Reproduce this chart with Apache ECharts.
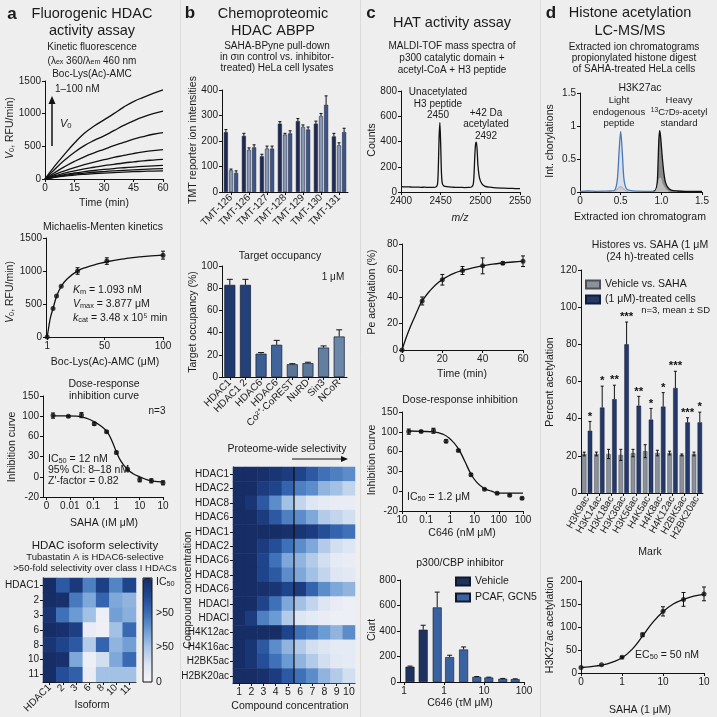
<!DOCTYPE html>
<html><head><meta charset="utf-8">
<script src="https://cdn.jsdelivr.net/npm/echarts@6/dist/echarts.min.js"></script>
<style>html,body{margin:0;padding:0;background:#eeeeee}#c{width:717px;height:717px}</style>
</head><body><div id="c"></div>
<script>
// ================= DATA =================
// a1 kinetic traces (RFU vs time)
const kinTime = [0,5,10,15,20,25,30,35,40,45,50,55,60];
const kin1 = [0,200,380,550,700,810,905,1000,1100,1185,1250,1310,1365];
const kin2 = [0,150,290,410,510,590,660,740,820,890,950,1000,1040];
const kin3 = [0,100,190,270,340,400,455,510,560,610,650,685,710];
const kin4 = [0,70,125,175,220,260,295,330,360,390,415,435,450];
const kin5 = [0,50,90,125,155,180,205,225,245,262,278,290,300];
const kin6 = [0,38,68,92,112,130,146,160,172,183,193,202,210];
const kin7 = [0,30,55,75,90,103,114,124,133,141,148,154,160];
const kin8 = [0,25,45,60,72,82,91,99,106,112,117,121,125];
// a2 Michaelis-Menten
const mmSubstrate = [1,6,9,13,27,52,100];
const mmRate = [0,430,620,770,1000,1150,1240];
const mmErr = [0,0,0,0,50,50,60];
const mmFitX = [1,2,3,4,6,9,13,18,27,35,45,52,65,80,100];
const mmFitY = [0,110,220,310,430,615,765,880,1000,1060,1110,1140,1180,1215,1240];
const mmXTicks = [1,50,100];
// a3 dose response (x = tick position, y = % on uneven tick scale)
const drYTicks = [-20,0,30,60,100,150];
const drXLabels = ['0','0.01','0.1','1','10','10'];
const drPos = [0.28,0.94,1.5,2.05,2.58,3.0,3.48,4.0,4.5,5.0];
const drInhib = [102,100,103,85,69,36,11,-3,-4,-6];
const drErr = [6,2,6,3,2,2,2,2,2,2];
const drFitPos = [0.28,0.8,1.3,1.7,2.05,2.35,2.6,2.8,3.0,3.2,3.45,3.7,4.0,4.5,5.0];
const drFitVal = [101,101,100,96,89,80,69,54,37,23,12,5,0,-4,-5];
// a4 isoform heatmap
const isoforms = ['HDAC1','2','3','6','8','10','11'];
const isoRow1 = [100,75,92,60,88,58,85];
const isoRow2 = [100,98,62,45,70,45,40];
const isoRow3 = [95,65,50,35,5,48,42];
const isoRow6 = [100,97,88,8,4,35,68];
const isoRow8 = [95,85,75,30,70,40,48];
const isoRow10 = [100,97,45,5,20,45,68];
const isoRow11 = [100,80,72,8,35,35,35];
// b1 TMT intensities
const tmtLabels = ['TMT-126','TMT-126','TMT-127','TMT-128','TMT-129','TMT-130','TMT-131'];
const tmtA = [235,220,140,268,278,268,218];
const tmtAErr = [10,10,8,8,10,10,12];
const tmtB = [85,165,170,225,255,298,183];
const tmtBErr = [5,8,10,5,8,10,10];
const tmtC = [75,175,170,230,245,342,235];
const tmtCErr = [8,10,10,10,10,35,15];
// b2 target occupancy
const occLabels = ['HDAC1','HDAC1 2','HDAC6','HDAC6','Co²⁺·CoREST','NuRD','Sin3','NCoR'];
const occVal = [83,83,21,29,11.5,12.5,26.5,36.5];
const occErr = [5,5,1,4,0.5,0.8,1.5,6];
// b3 proteome-wide heatmap
const concLabels = ['1','2','3','4','5','6','7','8','9','10'];
const protRows = ['HDAC1','HDAC2','HDAC8','HDAC6','HDAC1','HDAC2','HDAC6','HDAC8','HDAC6','HDACl','HDACl','H4K12ac','H4K16ac','H2BK5ac','H2BK20ac'];
const prot1 = [100,100,98,95,90,85,75,65,60,55];
const prot2 = [100,100,90,85,70,60,55,40,35,25];
const prot3 = [100,95,75,55,35,25,15,10,8,8];
const prot4 = [100,100,90,75,60,55,45,30,25,20];
const prot5 = [100,100,100,100,98,95,90,80,70,65];
const prot6 = [100,100,90,80,65,55,45,30,20,15];
const prot7 = [100,100,85,65,45,40,30,20,10,8];
const prot8 = [100,100,85,75,55,45,35,25,15,12];
const prot9 = [100,100,98,95,85,90,70,55,45,40];
const prot10 = [100,100,85,65,45,35,25,15,8,5];
const prot11 = [100,90,60,50,30,15,10,8,5,5];
const prot12 = [100,100,100,100,85,65,60,50,40,55];
const prot13 = [100,95,75,55,40,30,20,15,10,10];
const prot14 = [100,95,80,65,50,40,30,20,12,10];
const prot15 = [100,100,98,90,75,65,55,40,30,20];
// c1 MALDI spectrum
const mz = [2400,2405,2410,2415,2420,2425,2430,2435,2440,2444,2446,2447,2448,2449,2450,2451,2452,2454,2458,2465,2470,2475,2480,2485,2489,2491,2492,2493,2494,2495,2496,2497,2499,2502,2506,2512,2520,2530,2540,2550];
const counts = [42,40,41,38,39,37,38,36,37,40,60,180,430,550,380,150,70,48,42,38,36,37,35,36,40,60,130,280,380,395,330,210,110,65,45,38,32,30,28,26];
// c2 time course
const hatTime = [0,10,20,30,40,50,60];
const hatAcet = [0,37,53,60,63.5,65.5,67];
const hatErr = [0,3,4,3,6,1,4];
const hatFitT = [0,2,4,6,8,10,14,18,22,26,30,35,40,45,50,55,60];
const hatFitY = [0,9,17,24,31,37,45,51,55,58,60,62,63.5,64.8,65.7,66.4,67];
// c3 C646 dose response
const c646XLabels = ['10','0.1','1','10','100','100'];
const c646Pos = [0.28,0.79,1.3,1.82,2.33,2.85,3.41,3.93,4.45,4.96];
const c646Inhib = [101,101,103,81,62,25,3,-2,-4,-7];
const c646Err = [6,2,6,3,2,2,1,1,1,1];
const c646FitPos = [0.28,0.8,1.3,1.7,2.0,2.3,2.6,2.85,3.1,3.4,3.7,4.0,4.5,5.0];
const c646FitVal = [102,101,100,95,85,68,45,26,13,4,0,-2,-2,-2];
// c4 p300/CBP bars
const c4Labels = ['1','1','10','100'];
const vehPos = [0.15,0.48];
const vehVal = [120,410];
const vehErr = [5,35];
const pcafPos = [0.83,1.14,1.49,1.82,2.12,2.47,2.78];
const pcafVal = [585,195,255,40,35,25,22];
const pcafErr = [120,15,20,3,3,3,3];
// d1 chromatograms
const lightX = [0,0.1,0.2,0.3,0.38,0.43,0.46,0.48,0.5,0.52,0.54,0.57,0.62,0.7,0.8,0.95];
const lightY = [0.01,0.015,0.01,0.012,0.015,0.03,0.2,0.6,0.92,0.6,0.2,0.05,0.02,0.012,0.01,0.01];
const lightMinorX = [0.4,0.45,0.48,0.5,0.52,0.55,0.6];
const lightMinorY = [0,0.03,0.07,0.08,0.07,0.03,0];
const heavyX = [0.9,0.93,0.95,0.96,0.97,0.98,0.99,1.01,1.03,1.05,1.08,1.12,1.2,1.3,1.5];
const heavyY = [0.01,0.03,0.15,0.45,0.8,0.93,0.85,0.55,0.3,0.15,0.07,0.03,0.015,0.01,0.01];
const heavyMinorX = [0.92,0.95,0.97,0.99,1.02,1.06,1.1];
const heavyMinorY = [0,0.08,0.2,0.22,0.12,0.04,0];
// d2 histone marks
const marks = ['H3K9ac','H3K14ac','H3K18ac','H3K36ac','H3K56ac','H4K5ac','H4K8ac','H4K12ac','H2BK5ac','H2BK20ac'];
const markVeh = [21,21,21,20.5,21.5,22.5,21.5,21.5,20.5,21];
const markVehErr = [1,1,2.5,3,2,3.5,1.5,1,0.5,1];
const markSaha = [33.5,46,50.5,80,47,39.5,46.5,56.5,38,38];
const markSahaErr = [5,11.5,7.5,12,5,6,7.5,9,2.5,5.5];
const markStars = ['*','*','**','***','**','*','*','***','***','*'];
// d3 EC50
const d3Labels = ['0','1','10','10'];
const ecPos = [0,0.5,1,1.5,2,2.5,3];
const ecVal = [12,18,34,83,134,160,172];
const ecErr = [0,0,2,4,10,15,15];
const ecFitPos = [0,0.25,0.5,0.75,1,1.25,1.5,1.75,2,2.25,2.5,2.75,3];
const ecFitVal = [12,14,17,23,33,52,80,110,133,150,160,167,171];

// ================= BUILD =================
const FONT = '"Liberation Sans", Arial, Helvetica, sans-serif';
const INK = '#1a1a1a';
const HEAT = ['#f5f3f8','#dbe5f2','#a9c5e6','#6b9bd3','#3a6cb5','#1f4690','#172d66'];
const grids = [], xAxes = [], yAxes = [], series = [], G = [], visualMaps = [], legends = [];

function merge(base, o) {
  const r = Object.assign({}, base);
  for (const k in (o || {})) {
    const v = o[k];
    if (v && typeof v === 'object' && !Array.isArray(v) && base[k] && typeof base[k] === 'object') r[k] = Object.assign({}, base[k], v);
    else r[k] = v;
  }
  return r;
}
function axisBase() {
  return {type:'value', axisLine:{show:true, onZero:false, lineStyle:{color:'#111', width:1}},
    axisTick:{show:true, length:3, inside:false, lineStyle:{color:'#111'}},
    axisLabel:{fontSize:10, color:INK, fontFamily:FONT, margin:4, formatter:v => String(v)},
    splitLine:{show:false}, splitArea:{show:false}};
}
function addGrid(l, t, w, h, xa, ya) {
  const i = grids.length;
  grids.push({left:l, top:t, width:w, height:h, containLabel:false, outerBoundsMode:'none'});
  xAxes.push(merge(axisBase(), Object.assign({gridIndex:i}, xa)));
  yAxes.push(merge(axisBase(), Object.assign({gridIndex:i}, ya)));
  return i;
}
function T(x, y, text, o) {
  o = o || {};
  G.push({type:'text', x, y, rotation:o.rot || 0, z:100, silent:true,
    style:{text, fontSize:o.fs || 10, fontFamily:FONT, fill:o.color || INK, align:o.align || 'center',
      verticalAlign:'middle', fontWeight:o.fw || 'normal', fontStyle:o.fi || 'normal', rich:o.rich}});
}
function rich(fs) {
  return {s:{fontSize:fs*0.7, verticalAlign:'bottom', fontFamily:FONT, fill:INK},
          p:{fontSize:fs*0.7, verticalAlign:'top', fontFamily:FONT, fill:INK},
          i:{fontSize:fs, fontStyle:'italic', fontFamily:FONT, fill:INK}};
}
function pairs(xs, ys) { return xs.map((x, i) => [x, ys[i]]); }
function addErr(gi, pts, opt) {
  opt = opt || {};
  const cap = opt.cap || 2;
  series.push({type:'custom', xAxisIndex:gi, yAxisIndex:gi, silent:true, z:6, data:pts,
    renderItem(params, api) {
      const x = api.value(0), lo = api.value(1), hi = api.value(2), off = api.value(3) || 0;
      const a = api.coord([x, lo]), b = api.coord([x, hi]);
      const cx = a[0] + off;
      const st = {stroke:'#111', lineWidth:1};
      const ch = [];
      if (hi !== lo) {
        ch.push({type:'line', shape:{x1:cx, y1:a[1], x2:cx, y2:b[1]}, style:st});
        ch.push({type:'line', shape:{x1:cx-cap, y1:b[1], x2:cx+cap, y2:b[1]}, style:st});
        if (!opt.noLow) ch.push({type:'line', shape:{x1:cx-cap, y1:a[1], x2:cx+cap, y2:a[1]}, style:st});
      }
      if (opt.stars) ch.push({type:'text', style:{text:opt.stars[params.dataIndex], x:cx, y:b[1]+1, align:'center',
        verticalAlign:'bottom', fontSize:11.5, fontWeight:'bold', fill:'#111', fontFamily:FONT}});
      return {type:'group', children:ch};
    }});
}
function fitLine(gi, data) {
  series.push({type:'line', xAxisIndex:gi, yAxisIndex:gi, data, smooth:true, showSymbol:false, silent:true,
    lineStyle:{color:'#111', width:1.3}, z:3});
}
function dots(gi, data) {
  series.push({type:'scatter', xAxisIndex:gi, yAxisIndex:gi, data, symbol:'circle', symbolSize:5,
    itemStyle:{color:'#111'}, silent:true, z:7});
}
function unevenPos(v, ticks) {
  for (let i = 0; i < ticks.length - 1; i++) {
    if (v <= ticks[i+1] || i === ticks.length - 2) return i + (v - ticks[i]) / (ticks[i+1] - ticks[i]);
  }
}

// ---- panel separators ----
[180.5, 360.5, 540.5].forEach(x => G.push({type:'line', shape:{x1:x, y1:0, x2:x, y2:717}, style:{stroke:'#dadada', lineWidth:1}, silent:true}));

// ---- Panel a ----
T(12, 14, 'a', {fs:17, fw:'bold'});
T(92, 14, 'Fluorogenic HDAC', {fs:14.5});
T(92, 31, 'activity assay', {fs:14.5});
T(92, 47, 'Kinetic fluorescence', {fs:10});
T(92, 61, '(λ{s|ex} 360/λ{s|em} 460 nm', {fs:10, rich:rich(10)});
T(92, 74, 'Boc-Lys(Ac)-AMC', {fs:10});

const ga1 = addGrid(45, 81, 118, 98, {min:0, max:60, interval:15}, {min:0, max:1500, interval:500});
[kin1,kin2,kin3,kin4,kin5,kin6,kin7,kin8].forEach(c => {
  series.push({type:'line', xAxisIndex:ga1, yAxisIndex:ga1, data:pairs(kinTime, c), smooth:true, showSymbol:false,
    silent:true, lineStyle:{color:'#111', width:1.3}});
});
T(10, 128, '{i|V}{s|0}, RFU/min)', {fs:10.5, rot:Math.PI/2, rich:rich(10.5)});
T(104, 203, 'Time (min)', {fs:10.5});
T(55, 89, '1–100 nM', {fs:10, align:'left'});
G.push({type:'line', shape:{x1:52, y1:146, x2:52, y2:102}, style:{stroke:'#111', lineWidth:1.5}, silent:true});
G.push({type:'polygon', shape:{points:[[52,96],[48.5,104],[55.5,104]]}, style:{fill:'#111'}, silent:true});
T(60, 124, '{i|V}{s|0}', {fs:11, align:'left', rich:rich(11)});

const ga2 = addGrid(46, 238, 117, 99,
  {min:0, max:100, axisLabel:{customValues:mmXTicks}, axisTick:{customValues:mmXTicks}},
  {min:0, max:1500, interval:500});
fitLine(ga2, pairs(mmFitX, mmFitY));
dots(ga2, pairs(mmSubstrate, mmRate));
addErr(ga2, mmSubstrate.map((x, i) => [x, mmRate[i]-mmErr[i], mmRate[i]+mmErr[i], 0]));
T(103, 227, 'Michaelis-Menten kinetics', {fs:10.5});
T(10, 292, '{i|V}{s|0}, RFU/min)', {fs:10.5, rot:Math.PI/2, rich:rich(10.5)});
T(105, 362, 'Boc-Lys(Ac)-AMC (μM)', {fs:10.5});
T(73, 290, '{i|K}{s|m} = 1.093 nM', {fs:10.5, align:'left', rich:rich(10.5)});
T(73, 304, '{i|V}{s|max} = 3.877 μM', {fs:10.5, align:'left', rich:rich(10.5)});
T(73, 318, '{i|k}{s|cat} = 3.48 x 10⁵ min', {fs:10.5, align:'left', rich:rich(10.5)});

const dr6 = [0,1,2,3,4,5];
const ga3 = addGrid(43, 396, 120, 101,
  {min:-0.15, max:5, axisLabel:{customValues:dr6, formatter:v => drXLabels[Math.round(v)]}, axisTick:{customValues:dr6}},
  {min:0, max:5, interval:1, axisLabel:{formatter:v => String(drYTicks[Math.round(v)])}});
fitLine(ga3, drFitPos.map((p, i) => [p, unevenPos(drFitVal[i], drYTicks)]));
dots(ga3, drPos.map((p, i) => [p, unevenPos(drInhib[i], drYTicks)]));
addErr(ga3, drPos.map((p, i) => [p, unevenPos(drInhib[i]-drErr[i], drYTicks), unevenPos(drInhib[i]+drErr[i], drYTicks), 0]));
T(104, 384, 'Dose-response', {fs:10.5});
T(104, 396, 'inhibition curve', {fs:10.5});
T(157, 411, 'n=3', {fs:10});
T(12, 447, 'Inhibition curve', {fs:10.5, rot:Math.PI/2});
T(104, 523, 'SAHA (ıM μM)', {fs:10.5});
T(48, 459, 'IC{s|50} = 12 nM', {fs:10.5, align:'left', rich:rich(10.5)});
T(48, 470, '95% CI: 8–18 nM', {fs:10.5, align:'left'});
T(48, 481, "Z'-factor = 0.82", {fs:10.5, align:'left'});

const ga4 = addGrid(43, 578, 93, 104,
  {type:'category', data:isoforms, axisLabel:{rotate:45, interval:0}, axisTick:{alignWithLabel:true}},
  {type:'category', data:isoforms, inverse:true, axisLabel:{interval:0}, axisTick:{alignWithLabel:true}});
const isoMatrix = [isoRow1, isoRow2, isoRow3, isoRow6, isoRow8, isoRow10, isoRow11];
const sA = series.length;
series.push({type:'heatmap', xAxisIndex:ga4, yAxisIndex:ga4, silent:true,
  data:isoMatrix.flatMap((r, yi) => r.map((v, xi) => [xi, yi, v]))});
visualMaps.push({type:'continuous', min:0, max:100, seriesIndex:sA, left:143, top:578, itemWidth:9, itemHeight:104,
  calculable:false, padding:0, inRange:{color:HEAT}, textStyle:{fontSize:1, color:'rgba(0,0,0,0)'}});
G.push({type:'rect', shape:{x:143, y:578, width:9, height:104}, style:{fill:'none', stroke:'#111', lineWidth:1}, z:101, silent:true});
T(95, 546, 'HDAC isoform selectivity', {fs:11.5});
T(95, 557, 'Tubastatin A is HDAC6-selective', {fs:9.5});
T(95, 568, '>50-fold selectivity over class I HDACs', {fs:9.5});
T(156, 582, 'IC{s|50}', {fs:10.5, align:'left', rich:rich(10.5)});
T(156, 613, '>50', {fs:10.5, align:'left'});
T(156, 647, '>50', {fs:10.5, align:'left'});
T(156, 682, '0', {fs:10.5, align:'left'});
T(92, 705, 'Isoform', {fs:10.5});

// ---- Panel b ----
T(190, 13, 'b', {fs:17, fw:'bold'});
T(273, 14, 'Chemoproteomic', {fs:14.5});
T(273, 31, 'HDAC ABPP', {fs:14.5});
T(277, 46, 'SAHA-BPyne pull-down', {fs:10});
T(277, 57, 'in σιn control vs. inhibitor-', {fs:10});
T(277, 68, 'treated) HeLa cell lysates', {fs:10});

const gb1 = addGrid(222, 90, 126, 102,
  {type:'category', data:tmtLabels, axisLabel:{rotate:45, interval:0, fontSize:10}, axisTick:{alignWithLabel:true}},
  {min:0, max:400, interval:100});
const tmtColors = ['#1f2a52', '#8797b6', '#3d5487'];
const bw1 = 4, gap1 = 1.1;
[[tmtA, tmtAErr], [tmtB, tmtBErr], [tmtC, tmtCErr]].forEach((s, k) => {
  series.push({type:'bar', xAxisIndex:gb1, yAxisIndex:gb1, data:s[0], barWidth:bw1, barGap:'28%', silent:true,
    itemStyle:{color:tmtColors[k], borderColor:'#141b35', borderWidth:0.5}});
});
[[tmtA, tmtAErr], [tmtB, tmtBErr], [tmtC, tmtCErr]].forEach((s, k) => {
  const off = (k - 1) * (bw1 + gap1);
  addErr(gb1, s[0].map((v, i) => [i, v, v + s[1][i], off]), {noLow:true, cap:1.5});
});
T(193, 140, 'TMT reporter ion intensities', {fs:10.5, rot:Math.PI/2});

const gb2 = addGrid(222, 266, 125, 111,
  {type:'category', data:occLabels, axisLabel:{rotate:45, interval:0, fontSize:10}, axisTick:{alignWithLabel:true}},
  {min:0, max:100, interval:20});
const occColors = ['#1e3a6e','#22417a','#3c5f93','#41659a','#5a7597','#5c789a','#627f9f','#6b87a7'];
series.push({type:'bar', xAxisIndex:gb2, yAxisIndex:gb2, barWidth:11, silent:true,
  data:occVal.map((v, i) => ({value:v, itemStyle:{color:occColors[i]}})),
  itemStyle:{borderColor:'#121a30', borderWidth:0.7}});
addErr(gb2, occVal.map((v, i) => [i, v, v + occErr[i], 0]), {noLow:true, cap:3});
T(280, 256, 'Target occupancy', {fs:10.5});
T(333, 277, '1 μM', {fs:10});
T(193, 322, 'Target occupancy (%)', {fs:10.5, rot:Math.PI/2});

T(287, 449, 'Proteome-wide selectivity', {fs:10.5});
G.push({type:'line', shape:{x1:292, y1:459, x2:343, y2:459}, style:{stroke:'#111', lineWidth:1.2}, silent:true});
G.push({type:'polygon', shape:{points:[[348,459],[341,456],[341,462]]}, style:{fill:'#111'}, silent:true});

const gb3 = addGrid(233, 467, 122, 216,
  {type:'category', data:concLabels, axisLabel:{interval:0, fontSize:10.5}, axisTick:{alignWithLabel:true}},
  {type:'category', data:protRows, inverse:true, axisLabel:{interval:0, fontSize:10}, axisTick:{alignWithLabel:true}});
const protMatrix = [prot1,prot2,prot3,prot4,prot5,prot6,prot7,prot8,prot9,prot10,prot11,prot12,prot13,prot14,prot15];
const sB = series.length;
series.push({type:'heatmap', xAxisIndex:gb3, yAxisIndex:gb3, silent:true,
  data:protMatrix.flatMap((r, yi) => r.map((v, xi) => [xi, yi, v]))});
visualMaps.push({type:'continuous', min:0, max:100, seriesIndex:sB, show:false, inRange:{color:HEAT}});
series.push({type:'custom', xAxisIndex:gb3, yAxisIndex:gb3, silent:true, z:10, data:[[4, 0]],
  renderItem(params, api) {
    const p = api.coord([4, 0]);
    const bw = api.size([1, 0])[0];
    const x = p[0] + bw / 2, cs = params.coordSys;
    return {type:'line', shape:{x1:x, y1:cs.y, x2:x, y2:cs.y + cs.height}, style:{stroke:'#111', lineWidth:1.3}};
  }});
T(188, 590, 'Compound concentration', {fs:10.5, rot:Math.PI/2});
T(290, 706, 'Compound concentration', {fs:10.5});

// ---- Panel c ----
T(371, 13, 'c', {fs:17, fw:'bold'});
T(452, 23, 'HAT activity assay', {fs:14.5});
T(452, 46, 'MALDI-TOF mass spectra of', {fs:10});
T(452, 58, 'p300 catalytic domain +', {fs:10});
T(452, 70, 'acetyl-CoA + H3 peptide', {fs:10});

const gc1 = addGrid(401, 91, 119, 101, {min:2400, max:2550, interval:50}, {min:0, max:800, interval:200});
series.push({type:'line', xAxisIndex:gc1, yAxisIndex:gc1, data:pairs(mz, counts), showSymbol:false, silent:true,
  smooth:0.25, lineStyle:{color:'#111', width:1.3}});
T(438, 92, 'Unacetylated', {fs:10});
T(438, 104, 'H3 peptide', {fs:10});
T(438, 115, '2450', {fs:10});
T(486, 113, '+42 Da', {fs:10});
T(486, 124, 'acetylated', {fs:10});
T(486, 136, '2492', {fs:10});
T(372, 140, 'Counts', {fs:10.5, rot:Math.PI/2});
T(460, 218, 'm/z', {fs:10.5, fi:'italic'});

const gc2 = addGrid(402, 244, 121, 106, {min:0, max:60, interval:20}, {min:0, max:80, interval:20});
fitLine(gc2, pairs(hatFitT, hatFitY));
dots(gc2, pairs(hatTime, hatAcet));
addErr(gc2, hatTime.map((t, i) => [t, hatAcet[i]-hatErr[i], hatAcet[i]+hatErr[i], 0]));
T(372, 292, 'Pe acetylation (%)', {fs:10.5, rot:Math.PI/2});
T(462, 374, 'Time (min)', {fs:10.5});

const gc3 = addGrid(402, 412, 121, 99,
  {min:0, max:5, axisLabel:{customValues:dr6, formatter:v => c646XLabels[Math.round(v)]}, axisTick:{customValues:dr6}},
  {min:0, max:5, interval:1, axisLabel:{formatter:v => String(drYTicks[Math.round(v)])}});
fitLine(gc3, c646FitPos.map((p, i) => [p, unevenPos(c646FitVal[i], drYTicks)]));
dots(gc3, c646Pos.map((p, i) => [p, unevenPos(c646Inhib[i], drYTicks)]));
addErr(gc3, c646Pos.map((p, i) => [p, unevenPos(c646Inhib[i]-c646Err[i], drYTicks), unevenPos(c646Inhib[i]+c646Err[i], drYTicks), 0]));
T(460, 400, 'Dose-response inhibition', {fs:10.5});
T(407, 497, 'IC{s|50} = 1.2 μM', {fs:10.5, align:'left', rich:rich(10.5)});
T(372, 460, 'Inhibition curve', {fs:10.5, rot:Math.PI/2});
T(462, 533, 'C646 (nM μM)', {fs:10.5});

const c4Ticks = [0,1,2,3];
const gc4 = addGrid(400, 580, 124, 102,
  {min:-0.1, max:3, axisLabel:{customValues:c4Ticks, formatter:v => c4Labels[Math.round(v)]}, axisTick:{customValues:c4Ticks}},
  {min:0, max:800, interval:200});
series.push({type:'bar', name:'Vehicle', xAxisIndex:gc4, yAxisIndex:gc4, data:pairs(vehPos, vehVal), barWidth:9, barGap:'-100%',
  silent:true, itemStyle:{color:'#1e3260', borderColor:'#10182e', borderWidth:0.6}});
series.push({type:'bar', name:'PCAF, GCN5', xAxisIndex:gc4, yAxisIndex:gc4, data:pairs(pcafPos, pcafVal), barWidth:9, barGap:'-100%',
  silent:true, itemStyle:{color:'#3a62a0', borderColor:'#10182e', borderWidth:0.6}});
addErr(gc4, vehPos.map((p, i) => [p, vehVal[i], vehVal[i]+vehErr[i], 0]), {noLow:true, cap:2.5});
addErr(gc4, pcafPos.map((p, i) => [p, pcafVal[i], pcafVal[i]+pcafErr[i], 0]), {noLow:true, cap:2.5});
legends.push({data:['Vehicle', 'PCAF, GCN5'], left:455, top:576, orient:'vertical', itemWidth:14, itemHeight:8, itemGap:5,
  icon:'rect', selectedMode:false, padding:0, textStyle:{fontSize:10.5, color:INK, fontFamily:FONT}});
T(460, 563, 'p300/CBP inhibitor', {fs:10.5});
T(372, 630, 'Ciart', {fs:10.5, rot:Math.PI/2});
T(460, 703, 'C646 (τM μM)', {fs:10.5});

// ---- Panel d ----
T(551, 13, 'd', {fs:17, fw:'bold'});
T(630, 13, 'Histone acetylation', {fs:14.5});
T(630, 31, 'LC-MS/MS', {fs:14.5});
T(634, 47, 'Extracted ion chromatograms', {fs:10});
T(634, 58, 'propionylated histone digest', {fs:10});
T(634, 69, 'of SAHA-treated HeLa cells', {fs:10});

const gd1 = addGrid(580, 93, 122, 99,
  {min:0, max:1.5, interval:0.5, axisLabel:{formatter:v => v === 1 ? '1.0' : String(v)}},
  {min:0, max:1.5, interval:0.5});
series.push({type:'line', xAxisIndex:gd1, yAxisIndex:gd1, data:pairs(heavyX, heavyY), smooth:0.3, showSymbol:false, silent:true,
  lineStyle:{color:'#111', width:1.3}, areaStyle:{color:'#8a8a8a', opacity:1}, z:2});
series.push({type:'line', xAxisIndex:gd1, yAxisIndex:gd1, data:pairs(heavyMinorX, heavyMinorY), smooth:0.3, showSymbol:false, silent:true,
  lineStyle:{width:0}, areaStyle:{color:'#bdbdbd', opacity:1}, z:3});
series.push({type:'line', xAxisIndex:gd1, yAxisIndex:gd1, data:pairs(lightX, lightY), smooth:0.3, showSymbol:false, silent:true,
  lineStyle:{color:'#4a78b5', width:1.3}, areaStyle:{color:'#c9d8ea', opacity:0.6}, z:2});
series.push({type:'line', xAxisIndex:gd1, yAxisIndex:gd1, data:pairs(lightMinorX, lightMinorY), smooth:0.3, showSymbol:false, silent:true,
  lineStyle:{color:'#999', width:0.8}, areaStyle:{color:'#cfcfcf', opacity:1}, z:3});
T(640, 88, 'H3K27ac', {fs:10.5});
T(619, 100, 'Light', {fs:9.5});
T(619, 112, 'endogenous', {fs:9.5});
T(619, 123, 'peptide', {fs:9.5});
T(679, 100, 'Heavy', {fs:9.5});
T(679, 112, '{p|13}C{s|7}D{s|9}-acetyl', {fs:9.5, rich:rich(9.5)});
T(679, 123, 'standard', {fs:9.5});
T(550, 141, 'Int. chorylations', {fs:10.5, rot:Math.PI/2});
T(640, 217, 'Extracted ion chromatogram', {fs:10.5});

const gd2 = addGrid(581, 270, 122, 223,
  {type:'category', data:marks, axisLabel:{rotate:60, interval:0, fontSize:10}, axisTick:{alignWithLabel:true}},
  {min:0, max:120, interval:20});
const bw2 = 4.5, gap2 = 1.3;
series.push({type:'bar', name:'Vehicle vs. SAHA', xAxisIndex:gd2, yAxisIndex:gd2, data:markVeh, barWidth:bw2, barGap:'29%', silent:true,
  itemStyle:{color:'#8b919b', borderColor:'#4a4f58', borderWidth:0.5}});
series.push({type:'bar', name:'(1 μM)-treated cells', xAxisIndex:gd2, yAxisIndex:gd2, data:markSaha, barWidth:bw2, barGap:'29%', silent:true,
  itemStyle:{color:'#24396a', borderColor:'#121c38', borderWidth:0.5}});
addErr(gd2, markVeh.map((v, i) => [i, v - markVehErr[i], v + markVehErr[i], -(bw2 + gap2) / 2]), {cap:1.5});
addErr(gd2, markSaha.map((v, i) => [i, v, v + markSahaErr[i], (bw2 + gap2) / 2]), {noLow:true, cap:1.5, stars:markStars});
legends.push({data:['Vehicle vs. SAHA', '(1 μM)-treated cells'], left:585, top:279, orient:'vertical', itemWidth:14, itemHeight:8,
  itemGap:4, icon:'rect', selectedMode:false, padding:0, textStyle:{fontSize:10.5, color:INK, fontFamily:FONT}});
T(650, 245, 'Histores vs. SAHA (1 μM', {fs:10.5});
T(650, 257, '(24 h)-treated cells', {fs:10.5});
T(710, 310, 'n=3, mean ± SD', {fs:9.5, align:'right'});
T(550, 382, 'Percent acetylation', {fs:10.5, rot:Math.PI/2});
T(650, 552, 'Mark', {fs:10.5});

const gd3 = addGrid(581, 581, 123, 92,
  {min:0, max:3, axisLabel:{customValues:c4Ticks, formatter:v => d3Labels[Math.round(v)]}, axisTick:{customValues:c4Ticks}},
  {min:0, max:200, interval:50});
fitLine(gd3, pairs(ecFitPos, ecFitVal));
dots(gd3, pairs(ecPos, ecVal));
addErr(gd3, ecPos.map((p, i) => [p, ecVal[i]-ecErr[i], ecVal[i]+ecErr[i], 0]));
T(699, 655, 'EC{s|50} = 50 nM', {fs:10.5, align:'right', rich:rich(10.5)});
T(550, 625, 'H3K27ac acetylation', {fs:10.5, rot:Math.PI/2});
T(640, 710, 'SAHA (1 μM)', {fs:10.5});

const chart = echarts.init(document.getElementById('c'), null, {renderer:'canvas', width:717, height:717});
chart.setOption({
  backgroundColor:'#eeeeee', animation:false, textStyle:{fontFamily:FONT},
  grid:grids, xAxis:xAxes, yAxis:yAxes, series, visualMap:visualMaps, legend:legends, graphic:G
});
</script></body></html>
